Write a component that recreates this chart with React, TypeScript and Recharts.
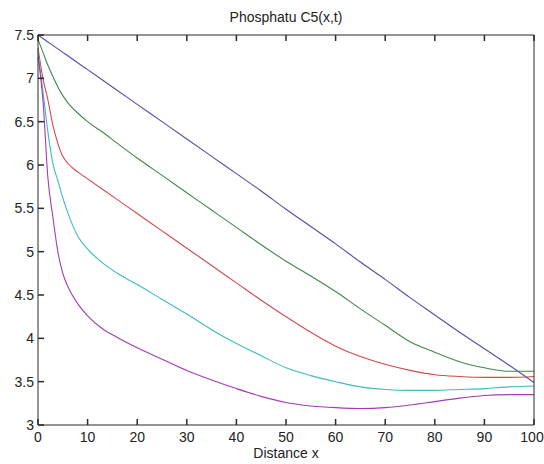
import { LineChart, Line, XAxis, YAxis } from 'recharts';

const distance = [0, 1, 2, 3, 4, 5, 6, 8, 10, 13, 16, 20, 25, 30, 35, 40, 45, 50, 55, 60, 65, 70, 75, 80, 85, 90, 95, 100];

const blueSeries = [7.5, 7.46, 7.42, 7.38, 7.34, 7.3, 7.26, 7.18, 7.1, 6.98, 6.86, 6.7, 6.5, 6.3, 6.1, 5.9, 5.7, 5.49, 5.29, 5.09, 4.88, 4.68, 4.47, 4.27, 4.07, 3.88, 3.69, 3.49];
const greenSeries = [7.45, 7.3, 7.15, 7.02, 6.9, 6.8, 6.72, 6.6, 6.5, 6.38, 6.25, 6.08, 5.88, 5.68, 5.48, 5.28, 5.08, 4.89, 4.72, 4.54, 4.34, 4.15, 3.96, 3.84, 3.73, 3.66, 3.62, 3.62];
const redSeries = [7.35, 7.0, 6.75, 6.46, 6.25, 6.1, 6.02, 5.92, 5.84, 5.72, 5.6, 5.44, 5.24, 5.04, 4.84, 4.64, 4.44, 4.25, 4.07, 3.91, 3.79, 3.7, 3.63, 3.58, 3.56, 3.55, 3.55, 3.56];
const cyanSeries = [7.3, 6.85, 6.38, 6.02, 5.82, 5.62, 5.45, 5.18, 5.03, 4.87, 4.75, 4.62, 4.45, 4.28, 4.1, 3.94, 3.8, 3.66, 3.57, 3.5, 3.44, 3.41, 3.4, 3.4, 3.41, 3.42, 3.44, 3.45];
const magentaSeries = [7.25, 6.75, 5.85, 5.4, 5.0, 4.75, 4.6, 4.4, 4.26, 4.11, 4.01, 3.89, 3.76, 3.63, 3.52, 3.42, 3.33, 3.26, 3.22, 3.2, 3.19, 3.2, 3.23, 3.27, 3.31, 3.34, 3.35, 3.35];

const xTicks = [0, 10, 20, 30, 40, 50, 60, 70, 80, 90, 100];
const yTicks = [3, 3.5, 4, 4.5, 5, 5.5, 6, 6.5, 7, 7.5];

const data = distance.map((x, i) => ({
  x,
  blue: blueSeries[i],
  green: greenSeries[i],
  red: redSeries[i],
  cyan: cyanSeries[i],
  magenta: magentaSeries[i],
}));

const FONT = '"Liberation Sans", Arial, sans-serif';
const AXIS_COLOR = '#2a2a2a';
const TEXT_COLOR = '#222';
const TICK_LEN = 6;

// matlab style: tick marks point into the plot box.
// the axis line sits at the tick's y (bottom) or x (left) since tickSize/tickMargin are 0
const BottomTick = (props: any) => {
  const { x, y, payload, index } = props;
  const last = index === xTicks.length - 1;
  return (
    <g>
      <line x1={x} x2={x} y1={y} y2={y - TICK_LEN} stroke={AXIS_COLOR} strokeWidth={1.5} />
      <text x={last ? x - 2 : x} y={y + 17} textAnchor="middle" fontSize={14} fontFamily={FONT} fill={TEXT_COLOR}>
        {payload.value}
      </text>
    </g>
  );
};

const LeftTick = (props: any) => {
  const { x, y, payload } = props;
  return (
    <g>
      <line x1={x} x2={x + TICK_LEN} y1={y} y2={y} stroke={AXIS_COLOR} strokeWidth={1.5} />
      <text x={x - 4} y={y + 5} textAnchor="end" fontSize={14} fontFamily={FONT} fill={TEXT_COLOR}>
        {payload.value}
      </text>
    </g>
  );
};

const TopTick = (props: any) => {
  const { x, y } = props;
  return <line x1={x} x2={x} y1={y} y2={y + TICK_LEN} stroke={AXIS_COLOR} strokeWidth={1.5} />;
};

const RightTick = (props: any) => {
  const { x, y } = props;
  return <line x1={x} x2={x - TICK_LEN} y1={y} y2={y} stroke={AXIS_COLOR} strokeWidth={1.5} />;
};

const App = () => {
  return (
    <div style={{ position: 'absolute', left: 0, top: 0, width: 544, height: 464, background: '#fff' }}>
      <div
        style={{
          position: 'absolute',
          left: 38,
          width: 496,
          top: 9,
          textAlign: 'center',
          fontFamily: FONT,
          fontSize: 14,
          color: TEXT_COLOR,
        }}
      >
        Phosphatu C5(x,t)
      </div>
      <LineChart width={544} height={464} data={data} margin={{ top: 34, right: 9, bottom: 0, left: 0 }}>
        <XAxis
          dataKey="x"
          type="number"
          domain={[0, 100]}
          ticks={xTicks}
          height={39}
          tickSize={0}
          tickMargin={0}
          tickLine={false}
          stroke={AXIS_COLOR}
          tick={BottomTick}
          interval={0}
        />
        <XAxis
          xAxisId="top"
          dataKey="x"
          orientation="top"
          type="number"
          domain={[0, 100]}
          ticks={xTicks}
          height={1}
          tickSize={0}
          tickMargin={0}
          tickLine={false}
          stroke={AXIS_COLOR}
          tick={TopTick}
          interval={0}
        />
        <YAxis
          type="number"
          domain={[3, 7.5]}
          ticks={yTicks}
          width={38}
          tickSize={0}
          tickMargin={0}
          tickLine={false}
          stroke={AXIS_COLOR}
          tick={LeftTick}
          interval={0}
        />
        <YAxis
          yAxisId="right"
          orientation="right"
          type="number"
          domain={[3, 7.5]}
          ticks={yTicks}
          width={1}
          tickSize={0}
          tickMargin={0}
          tickLine={false}
          stroke={AXIS_COLOR}
          tick={RightTick}
          interval={0}
        />
        <Line type="monotone" dataKey="blue" stroke="#4f4fa8" strokeWidth={1.1} dot={false} isAnimationActive={false} />
        <Line type="monotone" dataKey="green" stroke="#3f8a4a" strokeWidth={1.1} dot={false} isAnimationActive={false} />
        <Line type="monotone" dataKey="red" stroke="#d04a4a" strokeWidth={1.1} dot={false} isAnimationActive={false} />
        <Line type="monotone" dataKey="cyan" stroke="#3cbcc0" strokeWidth={1.1} dot={false} isAnimationActive={false} />
        <Line type="monotone" dataKey="magenta" stroke="#a43cb4" strokeWidth={1.1} dot={false} isAnimationActive={false} />
      </LineChart>
      <div
        style={{
          position: 'absolute',
          left: 38,
          width: 496,
          top: 445,
          textAlign: 'center',
          fontFamily: FONT,
          fontSize: 14,
          color: TEXT_COLOR,
        }}
      >
        Distance x
      </div>
    </div>
  );
};

export default App;
